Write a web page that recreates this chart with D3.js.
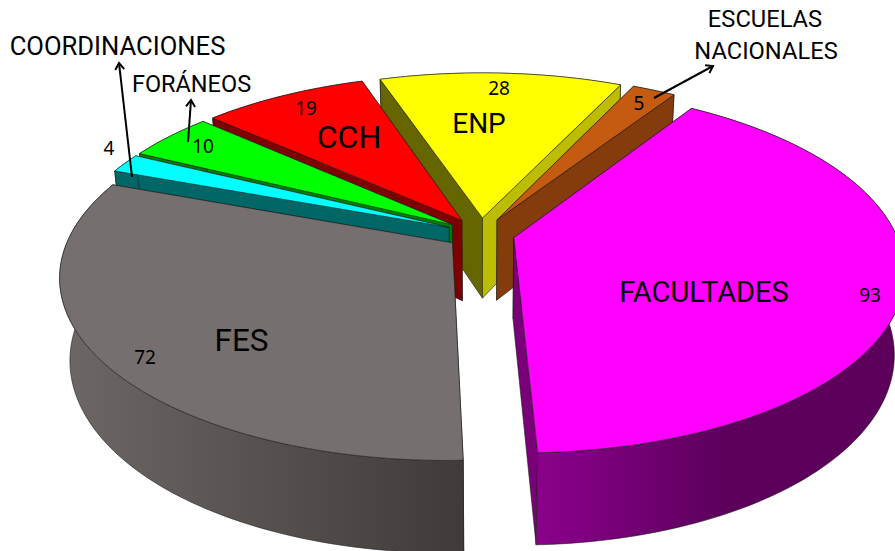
<!DOCTYPE html>
<html><head><meta charset="utf-8">
<script src="https://cdn.jsdelivr.net/npm/d3@7/dist/d3.min.js"></script>
<style>html,body{margin:0;background:#fff;overflow:hidden}svg{display:block}</style>
</head><body><svg id="c" width="895" height="551"></svg>
<script>
const categories = ["FACULTADES","FES","COORDINACIONES","FORÁNEOS","CCH","ENP","ESCUELAS NACIONALES"];
const values = [93,72,4,10,19,28,5];
const topColors = ["#ff00ff","#75706f","#00ffff","#00ff00","#ff0000","#ffff00","#c55a11"];
const faceStart = ["#7a007a","#44403e","#006666","#007f00","#7f0000","#666600","#843c0c"];
const faceEnd   = ["#7a007a","#44403e","#006666","#007f00","#7f0000","#bdbd00","#843c0c"];
const rimFrom = ["#8b008b","#6d6866","#006666","#007f00","#7f0000","#666600","#843c0c"];
const rimTo   = ["#5c005c","#403b39","#006666","#007f00","#7f0000","#666600","#843c0c"];

const cam = {cx:480.5, cy:233.5, S:382, V:175.6, H:83, p:0.176, q:0.024, explode:0.09, start:33};
const rad = d3.scaleLinear().domain([0,360]).range([0,2*Math.PI]);
const pie = d3.pie().sort(null).value(d=>d)
  .startAngle(rad(cam.start)).endAngle(rad(cam.start+360));
const arcs = pie(values);

function project(X,Y,t){
  const w = 1 + cam.p*Y + cam.q*t;
  return [cam.cx + cam.S*X/w, cam.cy + (-cam.V*Y + cam.H*t)/w];
}
const line = d3.line();
const svg = d3.select("#c");
const defs = svg.append("defs");

const slices = arcs.map((a,i)=>{
  const mid=(a.startAngle+a.endAngle)/2;
  const ox=cam.explode*Math.sin(mid), oy=cam.explode*Math.cos(mid);
  const n=Math.max(4,Math.ceil((a.endAngle-a.startAngle)/0.02));
  const angs=d3.range(n+1).map(k=>a.startAngle+(a.endAngle-a.startAngle)*k/n);
  const rim=t=>angs.map(th=>project(ox+Math.sin(th),oy+Math.cos(th),t));
  const apex=t=>project(ox,oy,t);
  return {i,mid,depth:Math.cos(mid),top:rim(0),bot:rim(1),a0:apex(0),a1:apex(1)};
}).sort((a,b)=>b.depth-a.depth);

function poly(g,pts,fill,sw){
  g.append("path").attr("d",line(pts)+"Z").attr("fill",fill)
   .attr("stroke","#1c1c1c").attr("stroke-width",sw||0.6)
   .attr("stroke-linejoin","round");
}
const pieG=svg.append("g");
slices.forEach(s=>{
  const g=pieG.append("g");
  const xs=d3.extent(s.top.concat(s.bot),d=>d[0]);
  const id="rim"+s.i;
  const gr=defs.append("linearGradient").attr("id",id).attr("gradientUnits","userSpaceOnUse")
    .attr("x1",xs[0]).attr("x2",s.i===0?xs[0]+190:xs[1]).attr("y1",0).attr("y2",0);
  gr.append("stop").attr("offset",0).attr("stop-color",rimFrom[s.i]);
  gr.append("stop").attr("offset",1).attr("stop-color",rimTo[s.i]);
  const last=s.top.length-1;
  const drawRim=()=>poly(g,s.top.concat(s.bot.slice().reverse()),`url(#${id})`);
  const drawFaces=()=>{
    poly(g,[s.a0,s.top[0],s.bot[0],s.a1],faceStart[s.i]);
    poly(g,[s.a0,s.top[last],s.bot[last],s.a1],faceEnd[s.i]);
  };
  if(s.depth>0){drawRim();drawFaces();} else {drawFaces();drawRim();}
  poly(g,[s.a0].concat(s.top),topColors[s.i]);
});

// text annotations
const valueLabels=[[93,870,302],[72,145,364],[4,109,155],[10,203,153],[19,306,115],[28,499,95],[5,639,110]];
const nameLabels=[
 ["COORDINACIONES",117.5,55,25.6],["FORÁNEOS",191.5,92,23.5],["ESCUELAS",765,27,23.7],["NACIONALES",766,59,23.7],
 ["FACULTADES",704,302,29],["FES",241.5,351,31.5],["CCH",349,148,32],["ENP",479,133,28]];
const t=svg.append("g").attr("text-anchor","middle").attr("fill","#000");
t.selectAll("text.v").data(valueLabels).join("text").attr("class","v")
 .attr("x",d=>d[1]).attr("y",d=>d[2]).attr("font-family","'Noto Sans'").attr("font-size",19).text(d=>d[0]);
t.selectAll("text.n").data(nameLabels).join("text").attr("class","n")
 .attr("x",d=>d[1]).attr("y",d=>d[2]).attr("font-family","Roboto").attr("font-size",d=>d[3]).text(d=>d[0]);

// leader arrows
const arrows=[[132,177,119,63],[188,142,191,100],[654,98,713,66]];
const ag=svg.append("g").attr("stroke","#000").attr("stroke-width",2).attr("fill","none");
arrows.forEach(([x1,y1,x2,y2])=>{
  ag.append("line").attr("x1",x1).attr("y1",y1).attr("x2",x2).attr("y2",y2);
  const an=Math.atan2(y2-y1,x2-x1),L=8;
  const h=[[x2-L*Math.cos(an-0.6),y2-L*Math.sin(an-0.6)],[x2,y2],[x2-L*Math.cos(an+0.6),y2-L*Math.sin(an+0.6)]];
  ag.append("path").attr("d",line(h));
});
</script></body></html>
